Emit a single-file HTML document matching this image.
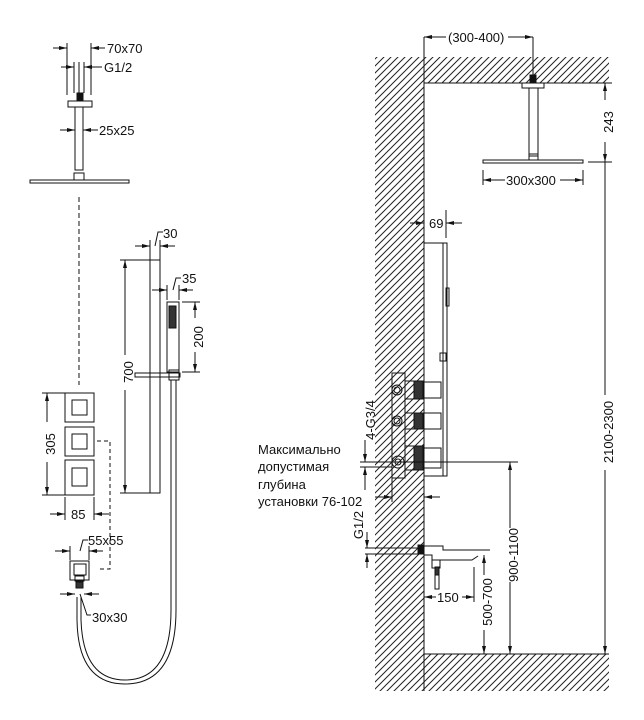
<!DOCTYPE html>
<html><head><meta charset="utf-8"><style>
html,body{margin:0;padding:0;background:#fff;}
svg{display:block;}
text{font-family:"Liberation Sans",sans-serif;font-size:13px;fill:#111;}
</style></head><body>
<svg width="644" height="720" viewBox="0 0 644 720" xmlns="http://www.w3.org/2000/svg">
<defs>
<pattern id="h" width="7" height="7" patternUnits="userSpaceOnUse">
<path d="M-1,8 L8,-1 M-1,1 L1,-1 M6,8 L8,6" stroke="#222" stroke-width="1"/>
</pattern>
<marker id="a" markerWidth="8" markerHeight="6" refX="8" refY="3" orient="auto-start-reverse" markerUnits="userSpaceOnUse">
<path d="M0,1 L8,3 L0,5 z" fill="#111"/></marker>
</defs>
<g stroke="#111" fill="none" stroke-width="1">
<path d="M375,57 H609 V83 H424 V654 H609 V691 H375 Z" fill="url(#h)" stroke="none"/>
<path d="M424,691 V83 H609 M424,654 H609"/>
<line x1="424" y1="37" x2="424" y2="83"/><line x1="533" y1="37" x2="533" y2="75"/>
<line x1="424" y1="37" x2="446" y2="37" marker-start="url(#a)"/>
<line x1="508" y1="37" x2="533" y2="37" marker-end="url(#a)"/>
<rect x="530" y="75" width="6" height="8" fill="#111"/>
<rect x="522" y="83" width="22" height="5"/>
<rect x="529" y="88" width="9" height="68"/>
<rect x="529" y="154" width="9" height="6"/>
<rect x="483" y="160" width="100" height="3"/>
<line x1="483" y1="170" x2="483" y2="185"/><line x1="583" y1="170" x2="583" y2="185"/>
<line x1="483" y1="180" x2="505" y2="180" marker-start="url(#a)"/>
<line x1="560" y1="180" x2="583" y2="180" marker-end="url(#a)"/>
<line x1="588" y1="83" x2="612" y2="83"/><line x1="588" y1="162" x2="612" y2="162"/>
<line x1="605" y1="83" x2="605" y2="100" marker-start="url(#a)"/>
<line x1="605" y1="142" x2="605" y2="162" marker-end="url(#a)"/>
<line x1="605" y1="162" x2="605" y2="395"/>
<line x1="605" y1="470" x2="605" y2="654" marker-end="url(#a)"/>
<line x1="446" y1="210" x2="446" y2="238"/>
<line x1="410" y1="223" x2="424" y2="223" marker-end="url(#a)"/>
<line x1="462" y1="223" x2="446" y2="223" marker-end="url(#a)"/>
<path d="M424,243 H447 V476 H424"/>
<line x1="443" y1="243" x2="443" y2="476"/>
<rect x="446" y="288" width="3" height="18"/>
<rect x="440" y="353" width="6" height="8"/>
<rect x="392" y="373" width="13" height="105"/>
<circle cx="397" cy="390" r="5"/><circle cx="397" cy="390" r="3"/>
<circle cx="397" cy="421" r="5"/><circle cx="397" cy="421" r="3"/>
<circle cx="398" cy="462" r="6"/><circle cx="398" cy="462" r="3"/>
<rect x="405" y="381" width="18" height="18"/><rect x="414" y="381" width="9" height="18" fill="#333"/>
<rect x="405" y="413" width="18" height="16"/><rect x="414" y="413" width="9" height="16" fill="#333"/>
<rect x="405" y="446" width="18" height="24"/><rect x="414" y="446" width="9" height="24" fill="#333"/>
<rect x="424" y="382" width="17" height="16"/>
<rect x="424" y="413" width="17" height="16"/>
<rect x="424" y="448" width="17" height="20"/>
<line x1="360" y1="462" x2="518" y2="462"/>
<line x1="360" y1="467" x2="392" y2="467"/>
<line x1="365" y1="440" x2="365" y2="462" marker-end="url(#a)"/>
<line x1="365" y1="490" x2="365" y2="467" marker-end="url(#a)"/>
<line x1="392" y1="478" x2="392" y2="502"/>
<line x1="375" y1="497" x2="392" y2="497" marker-end="url(#a)"/>
<line x1="440" y1="497" x2="424" y2="497" marker-end="url(#a)"/>
<line x1="510" y1="462" x2="510" y2="528" marker-start="url(#a)"/>
<line x1="510" y1="582" x2="510" y2="654" marker-end="url(#a)"/>
<rect x="418" y="545" width="6" height="9" fill="#111"/>
<path d="M424,546 H443 V550 H490 M424,555 H432 V560 H472 L478,556"/>
<rect x="432" y="560" width="8" height="8"/>
<rect x="435" y="567" width="4" height="8" fill="#333"/>
<rect x="435" y="575" width="4" height="14"/>
<line x1="365" y1="548" x2="418" y2="548"/><line x1="365" y1="554" x2="418" y2="554"/>
<line x1="367" y1="532" x2="367" y2="548" marker-end="url(#a)"/>
<line x1="367" y1="568" x2="367" y2="554" marker-end="url(#a)"/>
<line x1="474" y1="567" x2="474" y2="602"/>
<line x1="424" y1="597" x2="436" y2="597" marker-start="url(#a)"/>
<line x1="462" y1="597" x2="474" y2="597" marker-end="url(#a)"/>
<line x1="484" y1="555" x2="484" y2="575" marker-start="url(#a)"/>
<line x1="484" y1="630" x2="484" y2="654" marker-end="url(#a)"/>

<line x1="67" y1="43" x2="67" y2="95"/><line x1="91" y1="43" x2="91" y2="95"/>
<line x1="53" y1="48" x2="67" y2="48" marker-end="url(#a)"/>
<line x1="105" y1="48" x2="91" y2="48" marker-end="url(#a)"/>
<line x1="74" y1="62" x2="74" y2="93"/><line x1="79" y1="62" x2="79" y2="93"/><line x1="84" y1="62" x2="84" y2="93"/>
<line x1="61" y1="67" x2="74" y2="67" marker-end="url(#a)"/>
<line x1="102" y1="67" x2="84" y2="67" marker-end="url(#a)"/>
<rect x="77" y="93" width="6" height="8" fill="#111"/>
<rect x="68" y="101" width="24" height="6"/>
<rect x="75" y="107" width="8" height="63"/>
<rect x="74" y="173" width="10" height="7"/>
<rect x="30" y="180" width="99" height="3"/>
<line x1="60" y1="130" x2="75" y2="130" marker-end="url(#a)"/>
<line x1="98" y1="130" x2="83" y2="130" marker-end="url(#a)"/>
<line x1="79" y1="197" x2="79" y2="385" stroke-dasharray="5,3"/>
<rect x="150" y="260" width="10" height="233"/>
<line x1="120" y1="260" x2="150" y2="260"/><line x1="120" y1="493" x2="150" y2="493"/>
<line x1="125" y1="260" x2="125" y2="355" marker-start="url(#a)"/>
<line x1="125" y1="390" x2="125" y2="493" marker-end="url(#a)"/>
<line x1="135" y1="246" x2="150" y2="246" marker-end="url(#a)"/>
<line x1="175" y1="246" x2="160" y2="246" marker-end="url(#a)"/>
<line x1="150" y1="240" x2="150" y2="260"/><line x1="160" y1="240" x2="160" y2="260"/>
<path d="M155,246 L158,232 H163"/>
<line x1="152" y1="290" x2="167" y2="290" marker-end="url(#a)"/>
<line x1="193" y1="290" x2="179" y2="290" marker-end="url(#a)"/>
<line x1="167" y1="285" x2="167" y2="300"/><line x1="179" y1="285" x2="179" y2="300"/>
<path d="M173,290 L176,278 H181"/>
<rect x="167" y="302" width="12" height="70"/>
<rect x="169" y="306" width="7" height="22" fill="#333"/>
<line x1="182" y1="302" x2="200" y2="302"/><line x1="182" y1="372" x2="200" y2="372"/>
<line x1="195" y1="302" x2="195" y2="318" marker-start="url(#a)"/>
<line x1="195" y1="352" x2="195" y2="372" marker-end="url(#a)"/>
<rect x="135" y="373" width="45" height="4"/>
<rect x="169" y="370" width="10" height="10"/>
<path d="M171,380 V610 Q171,680 125,680 Q83,680 81,620 V597"/>
<path d="M176,380 V610 Q176,684 125,684 Q78,684 77,620 V597"/>
<rect x="65" y="393" width="29" height="29"/><rect x="72" y="400" width="15" height="15"/>
<rect x="65" y="427" width="29" height="29"/><rect x="72" y="434" width="15" height="15"/>
<rect x="65" y="460" width="29" height="35"/><rect x="72" y="468" width="15" height="18"/>
<line x1="42" y1="393" x2="65" y2="393"/><line x1="42" y1="495" x2="65" y2="495"/>
<line x1="47" y1="393" x2="47" y2="422" marker-start="url(#a)"/>
<line x1="47" y1="462" x2="47" y2="495" marker-end="url(#a)"/>
<line x1="65" y1="497" x2="65" y2="520"/><line x1="94" y1="497" x2="94" y2="520"/>
<line x1="50" y1="514" x2="65" y2="514" marker-end="url(#a)"/>
<line x1="109" y1="514" x2="94" y2="514" marker-end="url(#a)"/>
<path d="M97,441 H110 V569 H97" stroke-dasharray="4,3"/>
<line x1="55" y1="551" x2="70" y2="551" marker-end="url(#a)"/>
<line x1="103" y1="551" x2="89" y2="551" marker-end="url(#a)"/>
<line x1="70" y1="546" x2="70" y2="560"/><line x1="89" y1="546" x2="89" y2="560"/>
<path d="M80,551 L83,540 H88"/>
<rect x="70" y="561" width="19" height="19"/>
<rect x="74" y="564" width="12" height="11"/>
<rect x="75" y="576" width="9" height="5"/>
<rect x="76" y="582" width="7" height="6" fill="#333"/>
<line x1="60" y1="594" x2="75" y2="594" marker-end="url(#a)"/>
<line x1="99" y1="594" x2="84" y2="594" marker-end="url(#a)"/>
<path d="M80,594 L87,615 H91"/>
</g>
<text x="448" y="42">(300-400)</text>
<text x="609" y="126" transform="rotate(-90 609 122)" text-anchor="middle">243</text>
<text x="506" y="185">300x300</text>
<text x="429" y="228">69</text>
<text x="609" y="436" transform="rotate(-90 609 432)" text-anchor="middle">2100-2300</text>
<text x="514" y="559" transform="rotate(-90 514 555)" text-anchor="middle">900-1100</text>
<text x="488" y="606" transform="rotate(-90 488 602)" text-anchor="middle">500-700</text>
<text x="371" y="424" transform="rotate(-90 371 420)" text-anchor="middle">4-G3/4</text>
<text x="359" y="529" transform="rotate(-90 359 525)" text-anchor="middle">G1/2</text>
<text x="437" y="602">150</text>
<text x="258" y="454">Максимально</text>
<text x="258" y="471">допустимая</text>
<text x="258" y="489">глубина</text>
<text x="258" y="506">установки 76-102</text>
<text x="107" y="53">70x70</text>
<text x="104" y="72">G1/2</text>
<text x="99" y="135">25x25</text>
<text x="163" y="238">30</text>
<text x="182" y="283">35</text>
<text x="199" y="341" transform="rotate(-90 199 337)" text-anchor="middle">200</text>
<text x="129" y="376" transform="rotate(-90 129 372)" text-anchor="middle">700</text>
<text x="51" y="448" transform="rotate(-90 51 444)" text-anchor="middle">305</text>
<text x="71" y="519">85</text>
<text x="88" y="545">55x55</text>
<text x="92" y="622">30x30</text>
</svg>
</body></html>
